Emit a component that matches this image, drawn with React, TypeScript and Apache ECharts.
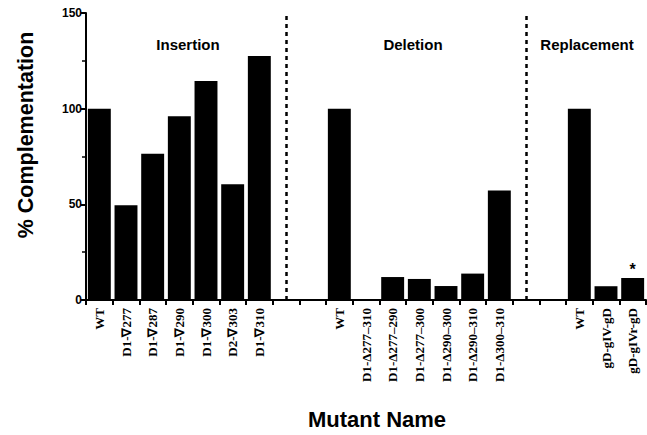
import React, { useEffect, useRef } from "react";
import * as echarts from "echarts";

const categories = [
  "WT", "D1-∇277", "D1-∇287", "D1-∇290", "D1-∇300", "D2-∇303", "D1-∇310",
  "", "",
  "WT", "D1-Δ277–310", "D1-Δ277–290", "D1-Δ277–300", "D1-Δ290–300", "D1-Δ290–310", "D1-Δ300–310",
  "", "",
  "WT", "gD-gIV-gD", "gD-gIVr-gD",
];

const insertionValues = [100, 49.5, 76.5, 96, 114.5, 60.5, 127.5];
const deletionValues = [100, 0.3, 12, 11, 7.3, 13.8, 57.2];
const replacementValues = [100, 7.2, 11.5];

const sectionLabels = ["Insertion", "Deletion", "Replacement"];
const dividerIndices = [7, 16];
const starredIndex = 20;

const yTicks = { min: 0, max: 150, interval: 50 };

export default function App() {
  const ref = useRef<HTMLDivElement>(null);
  useEffect(() => {
    if (!ref.current) return;
    const chart = echarts.init(ref.current, null, { renderer: "svg" });
    const values: (number | null)[] = [
      ...insertionValues, null, null,
      ...deletionValues, null, null,
      ...replacementValues,
    ];
    const data = values.map((v, i) =>
      i === starredIndex
        ? {
            value: v,
            label: {
              show: true,
              position: "top",
              formatter: "*",
              fontSize: 16,
              fontWeight: "bold",
              color: "#000",
              fontFamily: "Liberation Sans",
              distance: 0,
            },
          }
        : v
    );
    const titleStyle = { fontFamily: "Liberation Sans", fontWeight: "bold", fill: "#000", textAlign: "center", textVerticalAlign: "middle" };
    chart.setOption({
      animation: false,
      grid: { left: 86, right: 1, top: 13, bottom: 135, containLabel: false },
      xAxis: {
        type: "category",
        data: categories,
        axisLine: { show: true, lineStyle: { color: "#000", width: 2 } },
        axisTick: { show: true, length: 5, lineStyle: { color: "#000", width: 2 } },
        axisLabel: {
          interval: 0,
          rotate: 90,
          margin: 8,
          color: "#000",
          fontFamily: "Liberation Serif",
          fontWeight: "bold",
          fontSize: 13,
        },
      },
      yAxis: {
        type: "value",
        min: yTicks.min,
        max: yTicks.max,
        interval: yTicks.interval,
        axisLine: { show: true, lineStyle: { color: "#000", width: 2 } },
        axisTick: { show: true, length: 5, lineStyle: { color: "#000", width: 2 } },
        minorTick: { show: true, splitNumber: 2, length: 4, lineStyle: { color: "#000", width: 1.5 } },
        splitLine: { show: false },
        axisLabel: {
          margin: 4,
          color: "#000",
          fontFamily: "Liberation Sans",
          fontWeight: "bold",
          fontSize: 12,
        },
      },
      series: [
        {
          type: "bar",
          data,
          barCategoryGap: "14%",
          itemStyle: { color: "#000" },
          markLine: {
            silent: true,
            symbol: "none",
            label: { show: false },
            lineStyle: { color: "#000", width: 2.5, type: [4, 4] },
            data: dividerIndices.map((i) => ({ xAxis: i })),
          },
        },
      ],
      graphic: [
        { type: "text", x: 188, y: 44, style: { ...titleStyle, text: sectionLabels[0], fontSize: 15 } },
        { type: "text", x: 413, y: 44, style: { ...titleStyle, text: sectionLabels[1], fontSize: 15 } },
        { type: "text", x: 587, y: 44, style: { ...titleStyle, text: sectionLabels[2], fontSize: 15 } },
        {
          type: "text",
          x: 26,
          y: 135,
          rotation: Math.PI / 2,
          style: { ...titleStyle, text: "% Complementation", fontSize: 21.5 },
        },
        { type: "text", x: 377, y: 419, style: { ...titleStyle, text: "Mutant Name", fontSize: 22 } },
      ],
    });
    return () => chart.dispose();
  }, []);
  return <div ref={ref} style={{ width: 647, height: 435, position: "absolute", left: 0, top: 0 }} />;
}
